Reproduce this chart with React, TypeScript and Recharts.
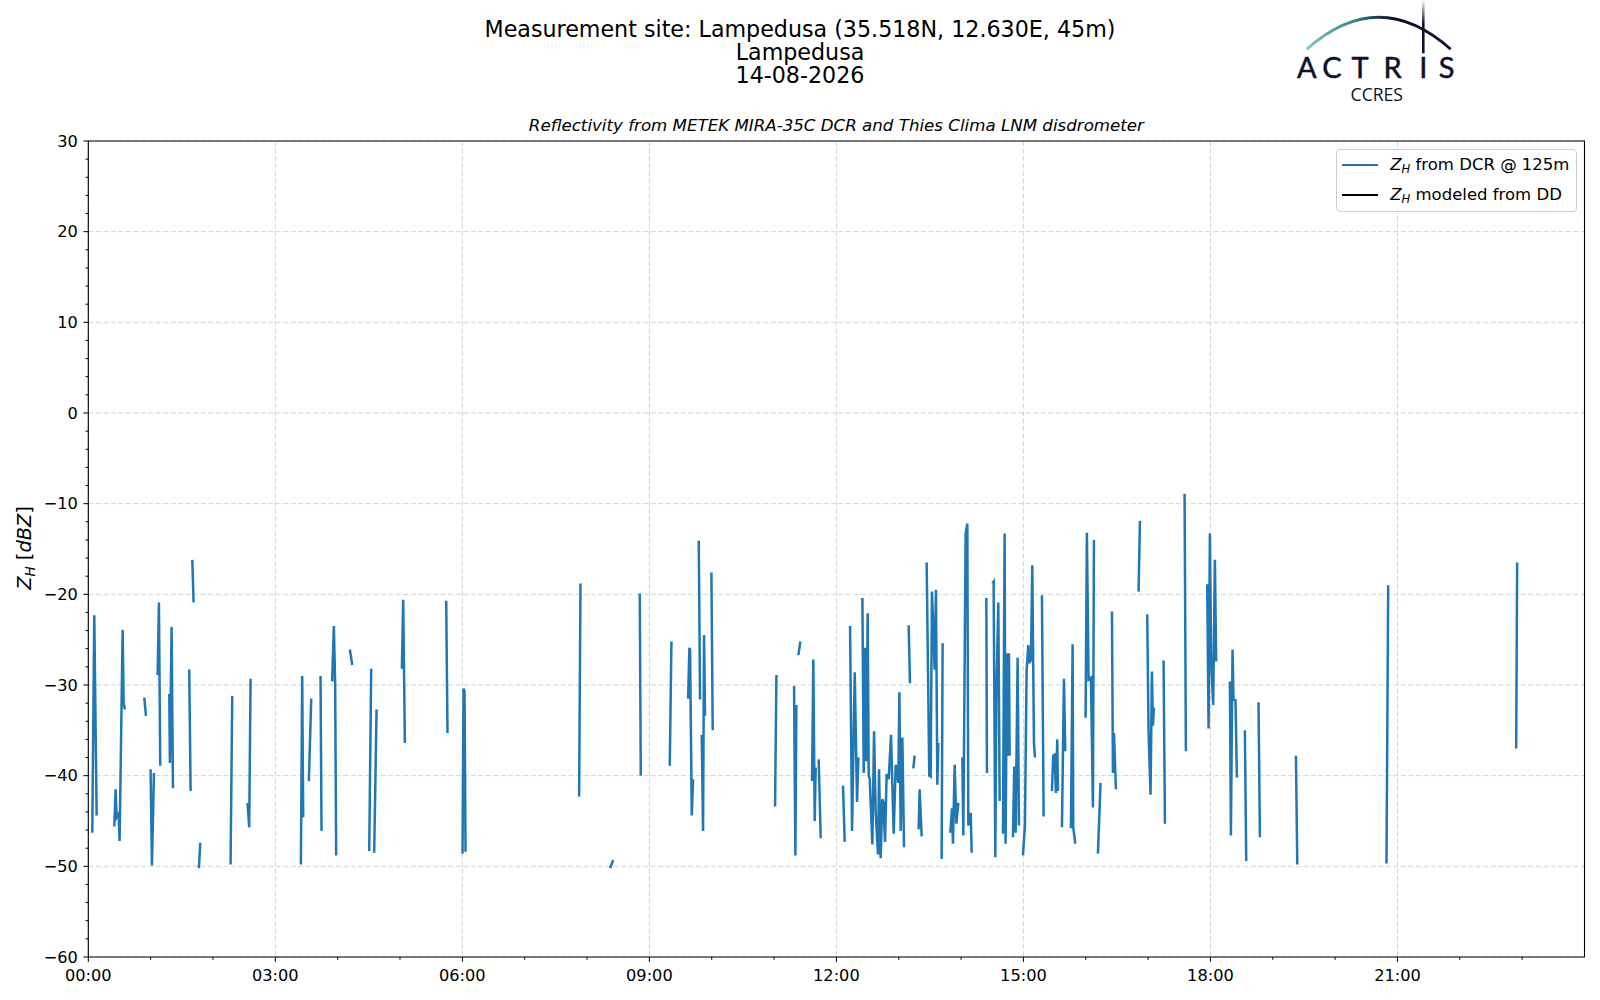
/**
 * Lampedusa reflectivity time series — DCR Z_H with gaps
 */
import { LineChart, Line, XAxis, YAxis, CartesianGrid, ReferenceArea } from "recharts";

// hours since 00:00 UTC; null = gap in the record
const DCR_TIME_H = [
  0.064, 0.096, 0.134, null,
  0.417, 0.438, 0.454, 0.486, 0.502, 0.551, 0.567, 0.588, null,
  0.898, 0.925, null,
  0.999, 1.021, 1.053, null,
  1.112, 1.133, 1.154, null,
  1.299, 1.309, 1.336, 1.358, null,
  1.619, 1.641, null,
  1.668, 1.689, null,
  1.774, 1.796, null,
  2.282, 2.309, null,
  2.555, 2.581, 2.603, null,
  3.41, 3.431, 3.447, null,
  3.538, 3.576, null,
  3.725, 3.741, null,
  3.912, 3.939, 3.96, 3.976, null,
  4.196, 4.234, null,
  4.506, 4.538, null,
  4.586, 4.624, null,
  5.03, 5.051, 5.078, null,
  5.741, 5.762, null,
  6.003, 6.019, 6.035, 6.051, null,
  7.873, 7.895, null,
  8.37, 8.42, null,
  8.846, 8.862, null,
  9.327, 9.354, null,
  9.621, 9.642, 9.653, 9.68, 9.701, null,
  9.792, 9.813, null,
  9.84, 9.861, 9.877, 9.893, null,
  9.995, 10.016, null,
  11.016, 11.038, null,
  11.321, 11.342, 11.358, null,
  11.39, 11.422, null,
  11.609, 11.63, 11.652, 11.668, null,
  11.716, 11.748, null,
  12.106, 12.133, null,
  12.219, 12.251, 12.294, 12.331, 12.353, null,
  12.417, 12.438, 12.459, 12.481, 12.502, 12.518, 12.534, 12.577, 12.604, 12.63, 12.668, 12.684, 12.71, 12.737, 12.753, 12.78, 12.806, 12.839, 12.876, 12.919, 12.951, 12.993, 13.01, 13.031, 13.058, 13.085, null,
  13.159, 13.18, null,
  13.234, 13.255, null,
  13.319, 13.335, 13.368, null,
  13.448, 13.49, 13.512, 13.533, 13.576, 13.597, 13.619, 13.635, null,
  13.688, 13.704, null,
  13.827, 13.854, 13.87, 13.897, 13.924, 13.956, null,
  14.02, 14.036, 14.073, 14.1, 14.116, 14.154, 14.17, null,
  14.405, 14.415, null,
  14.501, 14.522, 14.549, 14.565, 14.597, 14.619, null,
  14.672, 14.698, 14.714, 14.736, 14.757, 14.768, 14.779, null,
  14.832, 14.853, 14.875, 14.907, 14.928, null,
  14.992, 15.024, 15.051, 15.078, 15.094, 15.121, 15.142, 15.169, 15.185, null,
  15.297, 15.324, null,
  15.457, 15.478, 15.5, 15.521, 15.543, 15.553, null,
  15.618, 15.65, 15.671, null,
  15.762, 15.789, 15.799, 15.832, null,
  15.997, 16.018, 16.045, 16.083, 16.115, 16.131, null,
  16.195, 16.237, null,
  16.42, 16.436, 16.452, 16.484, null,
  16.847, 16.869, null,
  16.986, 17.007, 17.039, 17.061, 17.077, 17.093, null,
  17.248, 17.27, null,
  17.585, 17.606, null,
  17.948, 17.97, 17.991, 18.012, 18.044, 18.071, 18.092, null,
  18.312, 18.328, 18.354, 18.37, 18.402, 18.424, null,
  18.552, 18.574, null,
  18.771, 18.793, null,
  19.371, 19.393, null,
  20.824, 20.851, null,
  22.904, 22.92,
];

// dBZ, same layout as DCR_TIME_H
const DCR_ZH = [
  -46.3, -22.3, -44.4, null,
  -45.6, -41.5, -44.6, -44.2, -47.2, -23.9, -32.0, -32.7, null,
  -31.4, -33.4, null,
  -39.3, -49.9, -39.7, null,
  -28.9, -20.9, -38.9, null,
  -31.0, -38.6, -23.6, -41.4, null,
  -28.3, -41.7, null,
  -16.2, -20.9, null,
  -50.2, -47.4, null,
  -49.8, -31.2, null,
  -43.0, -45.7, -29.3, null,
  -49.8, -29.0, -44.6, null,
  -40.6, -31.5, null,
  -29.0, -46.1, null,
  -29.6, -23.5, -30.0, -48.8, null,
  -26.1, -27.8, null,
  -48.3, -28.2, null,
  -48.5, -32.7, null,
  -28.2, -20.6, -36.4, null,
  -20.7, -35.3, null,
  -48.6, -30.4, -30.7, -48.4, null,
  -42.3, -18.8, null,
  -50.2, -49.3, null,
  -19.9, -40.0, null,
  -38.9, -25.2, null,
  -31.5, -25.9, -26.1, -44.4, -40.4, null,
  -14.1, -31.6, null,
  -35.5, -46.1, -24.5, -33.4, null,
  -17.6, -35.0, null,
  -43.4, -28.9, null,
  -30.1, -48.8, -32.2, null,
  -26.7, -25.2, null,
  -40.6, -27.2, -45.0, -39.1, null,
  -38.2, -46.9, null,
  -41.1, -47.3, null,
  -23.5, -46.1, -28.6, -42.9, -38.0, null,
  -20.4, -39.7, -25.9, -38.4, -22.1, -40.0, -40.3, -47.6, -35.1, -44.1, -48.7, -39.3, -49.1, -42.6, -42.9, -47.3, -39.8, -40.4, -35.5, -46.4, -38.8, -40.8, -30.8, -46.1, -35.8, -47.9, null,
  -23.4, -29.8, null,
  -39.2, -37.8, null,
  -45.9, -41.5, -46.7, null,
  -16.5, -40.0, -40.1, -19.7, -28.3, -19.5, -41.0, -36.4, null,
  -49.2, -25.4, null,
  -46.3, -43.6, -47.5, -38.8, -45.3, -43.0, null,
  -38.0, -46.6, -13.3, -12.2, -45.5, -44.1, -48.5, null,
  -20.4, -39.7, null,
  -18.8, -18.6, -49.0, -31.6, -20.9, -42.8, null,
  -46.4, -13.3, -47.5, -26.5, -37.8, -26.5, -37.8, null,
  -46.8, -39.0, -46.3, -27.0, -45.5, null,
  -48.8, -45.5, -28.5, -25.6, -27.6, -27.2, -16.8, -36.4, -38.0, null,
  -20.1, -44.5, null,
  -41.7, -37.8, -37.7, -41.9, -36.0, -41.7, null,
  -45.7, -29.3, -37.3, null,
  -45.8, -25.5, -45.7, -47.5, null,
  -33.6, -13.2, -29.4, -29.2, -43.5, -14.0, null,
  -48.6, -40.8, null,
  -21.9, -39.7, -35.3, -41.5, null,
  -19.7, -11.9, null,
  -22.2, -35.1, -42.1, -28.5, -34.5, -32.5, null,
  -27.3, -45.3, null,
  -8.9, -37.3, null,
  -18.9, -34.8, -13.3, -27.4, -32.2, -16.2, -27.4, null,
  -29.6, -46.6, -26.1, -31.6, -31.7, -40.2, null,
  -35.0, -49.4, null,
  -31.9, -46.8, null,
  -37.8, -49.8, null,
  -49.7, -19.0, null,
  -37.0, -16.5,
];

// no disdrometer-modelled values for this day
const DD_ZH: (number | null)[] = [];

const X_TICKS = [0, 1, 2, 3, 4, 5, 6, 7, 8, 9, 10, 11, 12, 13, 14, 15, 16, 17, 18, 19, 20, 21, 22, 23];
const X_MAJOR = [0, 3, 6, 9, 12, 15, 18, 21];
const X_LABELS = ["00:00", "03:00", "06:00", "09:00", "12:00", "15:00", "18:00", "21:00"];
const Y_TICKS = [
  -60, -58, -56, -54, -52, -50, -48, -46, -44, -42, -40, -38, -36, -34, -32, -30,
  -28, -26, -24, -22, -20, -18, -16, -14, -12, -10, -8, -6, -4, -2, 0,
  2, 4, 6, 8, 10, 12, 14, 16, 18, 20, 22, 24, 26, 28, 30,
];
const Y_MAJOR = [-60, -50, -40, -30, -20, -10, 0, 10, 20, 30];

const FONT = "'DejaVu Sans', sans-serif";
const BLUE = "#1f77b4";
const NAVY = "#0d0f2b";

const rows = DCR_TIME_H.map((t, i) => ({
  t: t ?? DCR_TIME_H[i - 1],
  zh: DCR_ZH[i],
  dd: DD_ZH[i] ?? null,
}));

function XTick(props: any) {
  const { x, y, payload } = props;
  const idx = X_MAJOR.indexOf(payload.value);
  const major = idx >= 0;
  return (
    <g>
      <line x1={x} x2={x} y1={y} y2={y + (major ? 4.9 : 2.8)} stroke="#000" strokeWidth={1} />
      {major && (
        <text x={x} y={y + 24} textAnchor="middle" fontSize={16.2} fontFamily={FONT} fill="#000">
          {X_LABELS[idx]}
        </text>
      )}
    </g>
  );
}

function YTick(props: any) {
  const { x, y, payload } = props;
  const major = Y_MAJOR.includes(payload.value);
  return (
    <g>
      <line x1={x - (major ? 4.9 : 2.8)} x2={x} y1={y} y2={y} stroke="#000" strokeWidth={1} />
      {major && (
        <text x={x - 10.5} y={y + 5.8} textAnchor="end" fontSize={16.2} fontFamily={FONT} fill="#000">
          {String(payload.value).replace("-", "\u2212")}
        </text>
      )}
    </g>
  );
}

function ZH() {
  return (
    <span>
      <span style={{ fontStyle: "italic" }}>Z</span>
      <span style={{ fontStyle: "italic", fontSize: "0.7em", position: "relative", top: "0.3em" }}>H</span>
    </span>
  );
}

function Logo() {
  return (
    <svg width={1600} height={110} style={{ position: "absolute", left: 0, top: 0 }}>
      <defs>
        <linearGradient id="arcGrad" x1="1306" y1="0" x2="1451" y2="0" gradientUnits="userSpaceOnUse">
          <stop offset="0" stopColor="#7cc9c0" />
          <stop offset="0.35" stopColor="#2f7f86" />
          <stop offset="0.6" stopColor={NAVY} />
          <stop offset="1" stopColor={NAVY} />
        </linearGradient>
        <linearGradient id="barGrad" x1="0" y1="0" x2="0" y2="53" gradientUnits="userSpaceOnUse">
          <stop offset="0" stopColor={NAVY} stopOpacity={0} />
          <stop offset="0.45" stopColor={NAVY} />
          <stop offset="1" stopColor={NAVY} />
        </linearGradient>
      </defs>
      <path d="M 1306.7 49.3 Q 1378.7 -14.7 1450.7 49.3" fill="none" stroke="url(#arcGrad)" strokeWidth={2.8} />
      <line x1={1423.3} x2={1423.3} y1={1} y2={53.3} stroke="url(#barGrad)" strokeWidth={2.6} />
      {[
        ["A", 1306.7],
        ["C", 1332],
        ["T", 1360],
        ["R", 1392.5],
        ["I", 1423.3],
        ["S", 1446.5],
      ].map(([ch, cx]) => (
        <text
          key={ch as string}
          x={cx as number}
          y={77.5}
          textAnchor="middle"
          fontSize={29}
          fontFamily="Lato, sans-serif"
          fill={NAVY}
          stroke={NAVY}
          strokeWidth={0.5}
        >
          {ch}
        </text>
      ))}
      <text x={1376.7} y={100.5} textAnchor="middle" fontSize={17.5} fontFamily="'Open Sans', sans-serif" fill={NAVY}>
        CCRES
      </text>
    </svg>
  );
}

export default function App() {
  return (
    <div style={{ position: "absolute", left: 0, top: 0, width: 1600, height: 1000, background: "#fff", fontFamily: FONT, color: "#000" }}>
      <LineChart width={1600} height={1000} data={rows} margin={{ top: 141, right: 15.5, bottom: 0, left: 0 }}>
        <CartesianGrid
          stroke="#d3d3d3"
          strokeDasharray="5 2.5"
          verticalValues={X_MAJOR}
          horizontalValues={Y_MAJOR}
        />
        <XAxis
          dataKey="t"
          type="number"
          domain={[0, 24]}
          ticks={X_TICKS}
          interval={0}
          height={43}
          tickSize={0}
          tickMargin={0}
          axisLine={false}
          tickLine={false}
          tick={(p: any) => <XTick {...p} />}
          allowDataOverflow
        />
        <YAxis
          type="number"
          domain={[-60, 30]}
          ticks={Y_TICKS}
          interval={0}
          width={88.3}
          tickSize={0}
          tickMargin={0}
          axisLine={false}
          tickLine={false}
          tick={(p: any) => <YTick {...p} />}
          allowDataOverflow
        />
        <Line
          type="linear"
          dataKey="zh"
          stroke={BLUE}
          strokeWidth={2.5}
          dot={false}
          activeDot={false}
          connectNulls={false}
          isAnimationActive={false}
        />
        <Line
          type="linear"
          dataKey="dd"
          stroke="#000"
          strokeWidth={2.5}
          dot={false}
          activeDot={false}
          connectNulls={false}
          isAnimationActive={false}
        />
        <ReferenceArea x1={0} x2={24} y1={-60} y2={30} fill="none" fillOpacity={0} stroke="#000" strokeWidth={1.1} ifOverflow="visible" />
      </LineChart>

      {/* figure titles */}
      <div style={{ position: "absolute", left: 0, top: 17.5, width: 1600, textAlign: "center", fontSize: 22.2, lineHeight: "23.2px" }}>
        <div>Measurement site: Lampedusa (35.518N, 12.630E, 45m)</div>
        <div>Lampedusa</div>
        <div>14-08-2026</div>
      </div>
      <div style={{ position: "absolute", left: 88.3, top: 115.5, width: 1496.2, textAlign: "center", fontSize: 16.67, lineHeight: "20px", fontStyle: "italic" }}>
        Reflectivity from METEK MIRA-35C DCR and Thies Clima LNM disdrometer
      </div>

      {/* y label */}
      <div
        style={{
          position: "absolute",
          left: 25,
          top: 548,
          transform: "translate(-50%, -50%) rotate(-90deg)",
          whiteSpace: "nowrap",
          fontSize: 19.4,
          lineHeight: "24px",
        }}
      >
        <ZH /> [<span style={{ fontStyle: "italic" }}>dBZ</span>]
      </div>

      {/* legend */}
      <div
        style={{
          position: "absolute",
          left: 1336,
          top: 149.3,
          width: 240.5,
          height: 62.7,
          boxSizing: "border-box",
          border: "1px solid #cccccc",
          borderRadius: 4,
          background: "rgba(255,255,255,0.8)",
          fontSize: 16.5,
        }}
      >
        {[
          { color: BLUE, label: "from DCR @ 125m", cy: 14.7 },
          { color: "#000", label: "modeled from DD", cy: 44.7 },
        ].map((r) => (
          <div key={r.label}>
            <div style={{ position: "absolute", left: 5, top: r.cy - 1.2, width: 35.7, height: 2.5, background: r.color }} />
            <div style={{ position: "absolute", left: 53.3, top: r.cy - 11, lineHeight: "22px", whiteSpace: "nowrap" }}>
              <ZH /> {r.label}
            </div>
          </div>
        ))}
      </div>

      <Logo />
    </div>
  );
}
